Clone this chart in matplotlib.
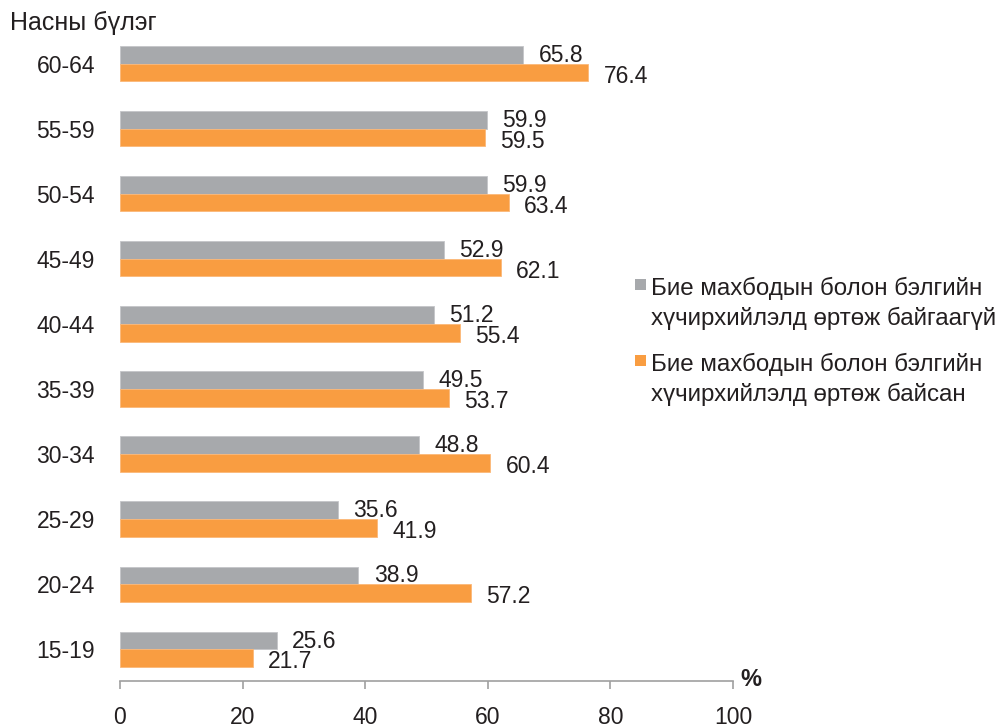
import matplotlib
matplotlib.use("Agg")
import matplotlib.pyplot as plt
from matplotlib.patches import Rectangle
import numpy as np

plt.rcParams['font.family'] = ['Liberation Sans', 'DejaVu Sans']

categories = ["15-19", "20-24", "25-29", "30-34", "35-39", "40-44", "45-49", "50-54", "55-59", "60-64"]
not_exposed = [25.6, 38.9, 35.6, 48.8, 49.5, 51.2, 52.9, 59.9, 59.9, 65.8]
exposed = [21.7, 57.2, 41.9, 60.4, 53.7, 55.4, 62.1, 63.4, 59.5, 76.4]
legend_labels = ["Бие махбодын болон бэлгийн\nхүчирхийлэлд өртөж байгаагүй",
                 "Бие махбодын болон бэлгийн\nхүчирхийлэлд өртөж байсан"]
xticks = [0, 20, 40, 60, 80, 100]

grey = "#A7A9AC"
orange = "#F99D41"
txt = "#231F20"

fig = plt.figure(figsize=(9.99, 7.28), dpi=100)
ax = fig.add_axes([0.1201, 0.0646, 0.6136, 0.8924])

y = np.arange(len(categories))
h = 0.27
ax.barh(y + h / 2, not_exposed, height=h, color=grey, edgecolor="#C4C5C8", linewidth=0.6)
ax.barh(y - h / 2, exposed, height=h, color=orange, edgecolor="#FBB878", linewidth=0.6)

for yi, v in zip(y, not_exposed):
    ax.annotate(f"{v:.1f}", (v, yi + h / 2), xytext=(11, -0.5), textcoords="offset points",
                va="center", ha="left", fontsize=16.5, color=txt)
for yi, v in zip(y, exposed):
    ax.annotate(f"{v:.1f}", (v, yi - h / 2), xytext=(11, -2.5), textcoords="offset points",
                va="center", ha="left", fontsize=16.5, color=txt)

ax.set_xlim(0, 100)
ax.set_ylim(-0.49, 9.5)
ax.set_yticks(y)
ax.set_yticklabels(categories, fontsize=16.5, color=txt)
ax.set_xticks(xticks)
ax.set_xticklabels([str(t) for t in xticks], fontsize=16.5, color=txt)
ax.tick_params(axis="y", length=0, pad=18)
ax.tick_params(axis="x", length=6, width=1.2, color="#A0A0A0", direction="out", pad=12)

for s in ["top", "right", "left"]:
    ax.spines[s].set_visible(False)
ax.spines["bottom"].set_color("#A0A0A0")
ax.spines["bottom"].set_linewidth(1.2)

fig.text(0.741, 1 - 686 / 728, "%", fontsize=17, fontweight="bold", ha="left", va="baseline", color=txt)
fig.text(0.01, 1 - 30 / 728, "Насны бүлэг", fontsize=18, ha="left", va="baseline", color=txt)

# legend drawn manually: square marker aligned with first text line
leg_colors = [grey, orange]
leg_baselines = [295, 371]
for lab, col, base in zip(legend_labels, leg_colors, leg_baselines):
    fig.patches.append(Rectangle((635 / 999, 1 - (base - 5) / 728), 11 / 999, 11 / 728,
                                 transform=fig.transFigure, facecolor=col, edgecolor="none"))
    for k, line in enumerate(lab.split("\n")):
        fig.text(651 / 999, 1 - (base + 30 * k) / 728, line, fontsize=17.4,
                 ha="left", va="baseline", color=txt)

fig.savefig("out.png", dpi=100)
